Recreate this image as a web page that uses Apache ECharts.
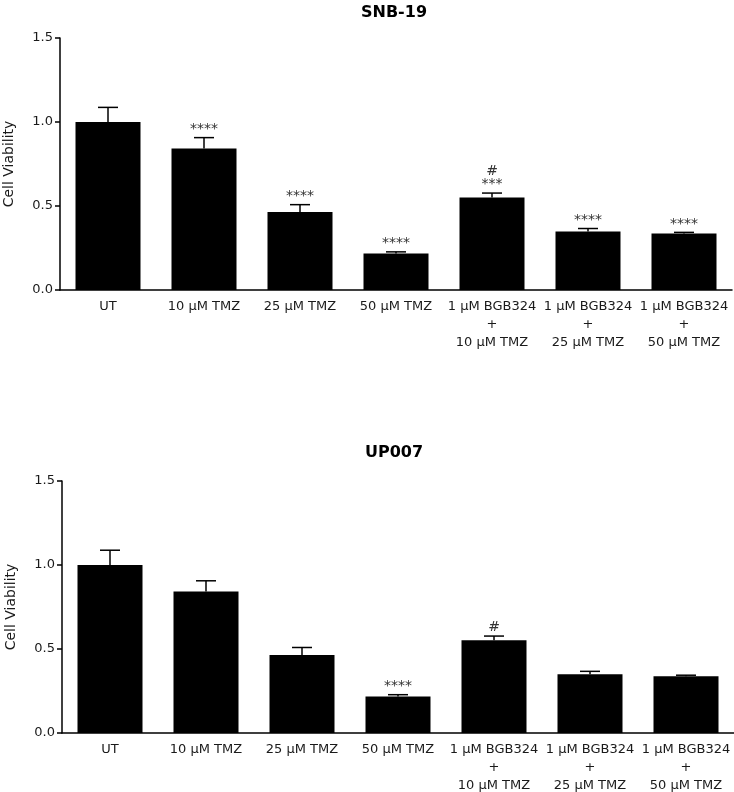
<!DOCTYPE html>
<html>
<head>
<meta charset="utf-8">
<script src="https://cdn.jsdelivr.net/npm/echarts@6/dist/echarts.min.js"></script>
<style>html,body{margin:0;padding:0;background:#fff}#c{width:734px;height:792px}</style>
</head>
<body>
<div id="c"></div>
<script>
const categories = ['UT', '10 μM TMZ', '25 μM TMZ', '50 μM TMZ',
  '1 μM BGB324\n+\n10 μM TMZ', '1 μM BGB324\n+\n25 μM TMZ', '1 μM BGB324\n+\n50 μM TMZ'];
const yTicks = [0, 0.5, 1.0, 1.5];

const snbMeans = [1.00, 0.842, 0.465, 0.217, 0.551, 0.348, 0.337];
const snbErrors = [0.087, 0.065, 0.043, 0.010, 0.026, 0.018, 0.006];
const snbAnnot = ['', '****', '****', '****', '#\n***', '****', '****'];

const upMeans = [1.00, 0.843, 0.464, 0.218, 0.552, 0.349, 0.338];
const upErrors = [0.088, 0.063, 0.045, 0.010, 0.025, 0.018, 0.006];
const upAnnot = ['', '', '', '****', '#', '', ''];

const FONT = 'DejaVu Sans';
const TXT = '#1a1a1a';

function xAxis(gi) {
  return {
    type: 'category', gridIndex: gi, data: categories,
    axisLine: { lineStyle: { color: '#000', width: 1.5 } },
    axisTick: { alignWithLabel: true, length: 5, lineStyle: { color: '#000', width: 1.5 } },
    axisLabel: { color: TXT, fontFamily: FONT, fontSize: 13, lineHeight: 18, margin: 8, interval: 0 }
  };
}
function yAxis(gi) {
  return {
    type: 'value', gridIndex: gi, min: yTicks[0], max: yTicks[yTicks.length - 1], interval: 0.5,
    name: 'Cell Viability', nameLocation: 'middle', nameGap: 44,
    nameTextStyle: { color: TXT, fontFamily: FONT, fontSize: 14 },
    axisLine: { show: true, lineStyle: { color: '#000', width: 1.5 } },
    axisTick: { show: true, length: 5, lineStyle: { color: '#000', width: 1.5 } },
    splitLine: { show: false },
    axisLabel: { color: TXT, fontFamily: FONT, fontSize: 13, margin: 7, formatter: v => v.toFixed(1) }
  };
}
function errSeries(gi, means, errs, annot) {
  return {
    type: 'custom', xAxisIndex: gi, yAxisIndex: gi, z: 5,
    data: means.map((m, i) => [i, m, m + errs[i]]),
    renderItem: function (params, api) {
      const i = params.dataIndex;
      const p0 = api.coord([api.value(0), api.value(1)]);
      const p1 = api.coord([api.value(0), api.value(2)]);
      const cap = 10;
      const children = [
        { type: 'line', shape: { x1: p0[0], y1: p0[1], x2: p1[0], y2: p1[1] }, style: { stroke: '#000', lineWidth: 1.5 } },
        { type: 'line', shape: { x1: p1[0] - cap, y1: p1[1], x2: p1[0] + cap, y2: p1[1] }, style: { stroke: '#000', lineWidth: 1.5 } }
      ];
      if (annot[i]) {
        children.push({
          type: 'text',
          style: { text: annot[i], x: p1[0], y: p1[1] - 2, textAlign: 'center', textVerticalAlign: 'bottom',
            font: '14px "' + FONT + '"', fill: '#333', lineHeight: 13 }
        });
      }
      return { type: 'group', children: children };
    }
  };
}

const chart = echarts.init(document.getElementById('c'), null, { renderer: 'canvas' });
chart.setOption({
  animation: false,
  backgroundColor: '#fff',
  title: [
    { text: 'SNB-19', left: 389, top: 0, textAlign: 'center',
      textStyle: { fontFamily: FONT, fontSize: 16, fontWeight: 'bold', color: '#000' } },
    { text: 'UP007', left: 389, top: 440, textAlign: 'center',
      textStyle: { fontFamily: FONT, fontSize: 16, fontWeight: 'bold', color: '#000' } }
  ],
  grid: [
    { left: 60, top: 38, width: 672, height: 252, containLabel: false, outerBoundsMode: 'none' },
    { left: 62, top: 481, width: 672, height: 252, containLabel: false, outerBoundsMode: 'none' }
  ],
  xAxis: [xAxis(0), xAxis(1)],
  yAxis: [yAxis(0), yAxis(1)],
  series: [
    { type: 'bar', xAxisIndex: 0, yAxisIndex: 0, data: snbMeans, barWidth: 65,
      itemStyle: { color: '#000' } },
    errSeries(0, snbMeans, snbErrors, snbAnnot),
    { type: 'bar', xAxisIndex: 1, yAxisIndex: 1, data: upMeans, barWidth: 65,
      itemStyle: { color: '#000' } },
    errSeries(1, upMeans, upErrors, upAnnot)
  ]
});
</script>
</body>
</html>
